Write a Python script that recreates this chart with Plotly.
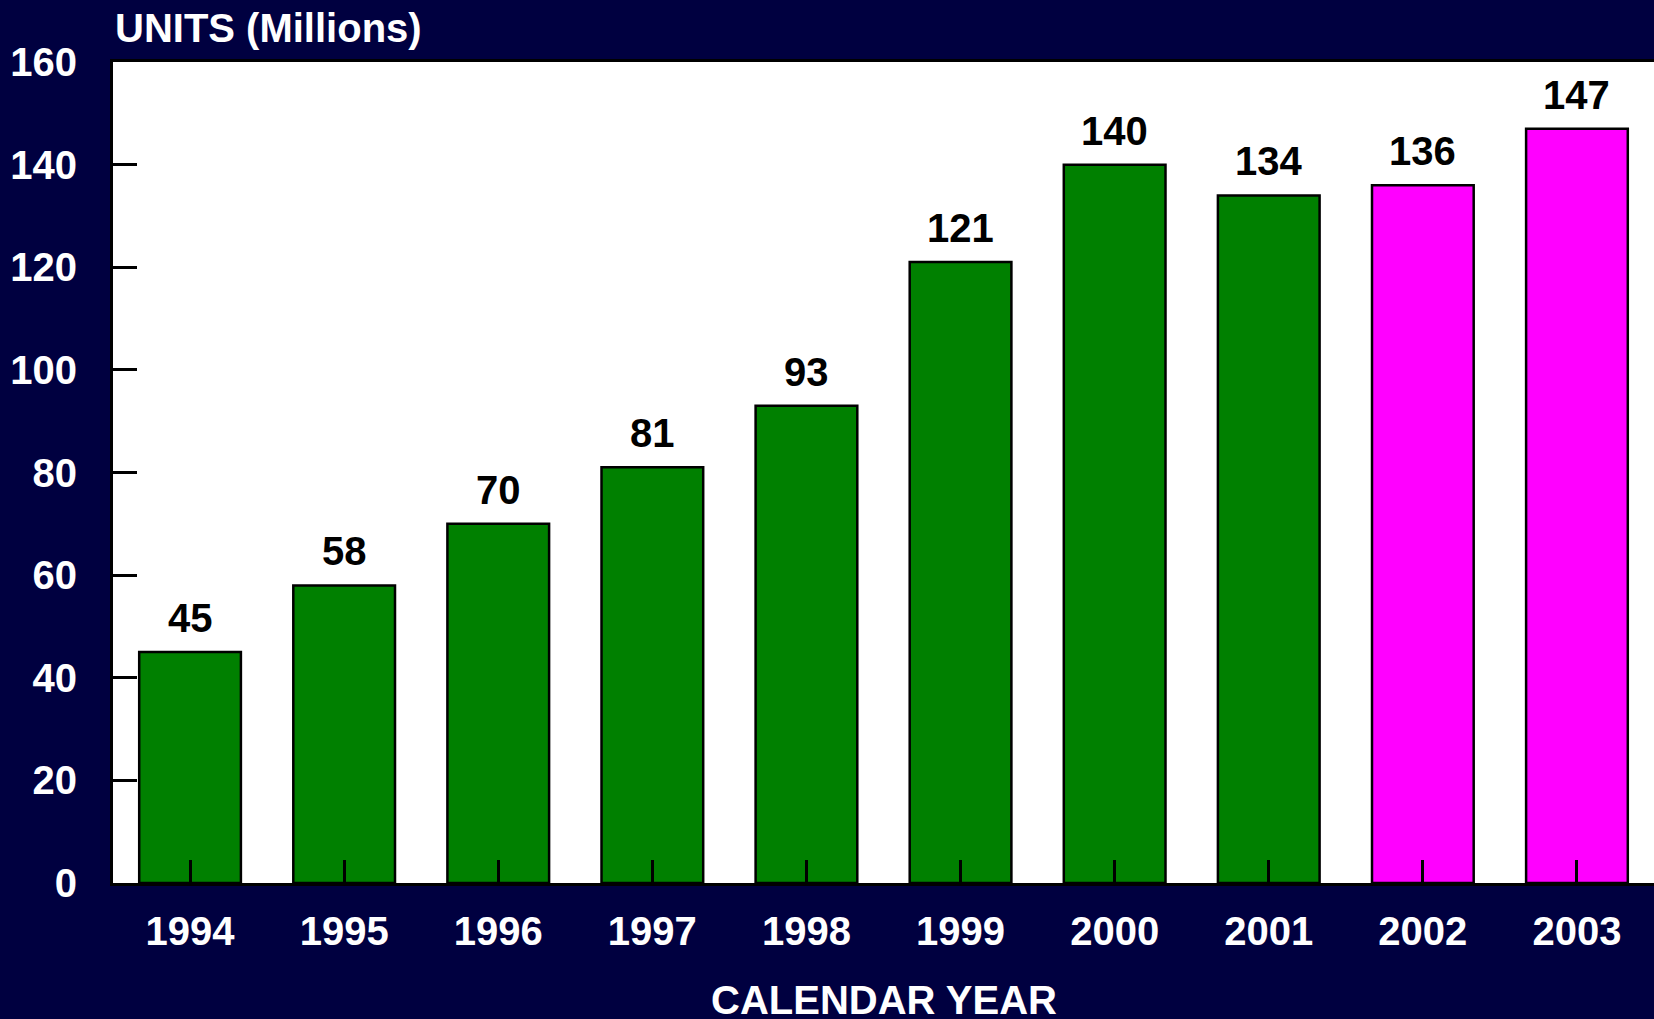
import plotly.graph_objects as go

# Annual unit volumes (millions), calendar years 1994-2003
years = ["1994", "1995", "1996", "1997", "1998", "1999", "2000", "2001", "2002", "2003"]
units = [45, 58, 70, 81, 93, 121, 140, 134, 136, 147]
projected_years = ["2002", "2003"]

y_ticks = [0, 20, 40, 60, 80, 100, 120, 140, 160]

NAVY = "#000040"
ACTUAL = "#008000"
PROJECTED = "#FF00FF"
FONT = "Liberation Sans"
SIZE = 40

bar_colors = [PROJECTED if y in projected_years else ACTUAL for y in years]

fig = go.Figure(
    go.Bar(
        x=years,
        y=units,
        width=0.66,
        marker=dict(color=bar_colors, line=dict(color="black", width=2.5)),
    )
)

# value labels above each bar (category axis: position by category index)
for i, v in enumerate(units):
    fig.add_annotation(
        x=i, y=v,
        text=str(v),
        xanchor="center", yanchor="bottom",
        yshift=10,
        showarrow=False,
        font=dict(family=FONT, size=SIZE, color="black", weight="bold"),
    )

fig.update_layout(
    width=1654,
    height=1019,
    margin=dict(l=113, r=0, t=62, b=136),
    paper_bgcolor=NAVY,
    plot_bgcolor="white",
    showlegend=False,
    font=dict(family=FONT, size=SIZE, color="white", weight="bold"),
)

fig.update_xaxes(
    type="category",
    range=[-0.5, 9.5],
    showline=True,
    linecolor="black",
    linewidth=3,
    mirror=True,
    ticks="inside",
    ticklen=23,
    tickwidth=3,
    tickcolor="black",
    ticklabelstandoff=11,
    tickfont=dict(family=FONT, size=SIZE, color="white", weight="bold"),
    showgrid=False,
)

fig.update_yaxes(
    range=[0, 160],
    tickvals=y_ticks,
    showline=True,
    linecolor="black",
    linewidth=3,
    mirror=False,
    ticks="inside",
    ticklen=24,
    tickwidth=3,
    tickcolor="black",
    ticklabelstandoff=25,
    tickfont=dict(family=FONT, size=SIZE, color="white", weight="bold"),
    showgrid=False,
    zeroline=False,
)

fig.add_annotation(
    text="UNITS (Millions)",
    xref="paper", yref="paper",
    x=0, y=1.0414,
    xanchor="left", yanchor="middle",
    showarrow=False,
    font=dict(family=FONT, size=SIZE, color="white", weight="bold"),
)

fig.add_annotation(
    text="CALENDAR YEAR",
    xref="paper", yref="paper",
    x=0.5, y=-0.1425,
    xanchor="center", yanchor="middle",
    showarrow=False,
    font=dict(family=FONT, size=SIZE, color="white", weight="bold"),
)

fig.write_html("out.html")
